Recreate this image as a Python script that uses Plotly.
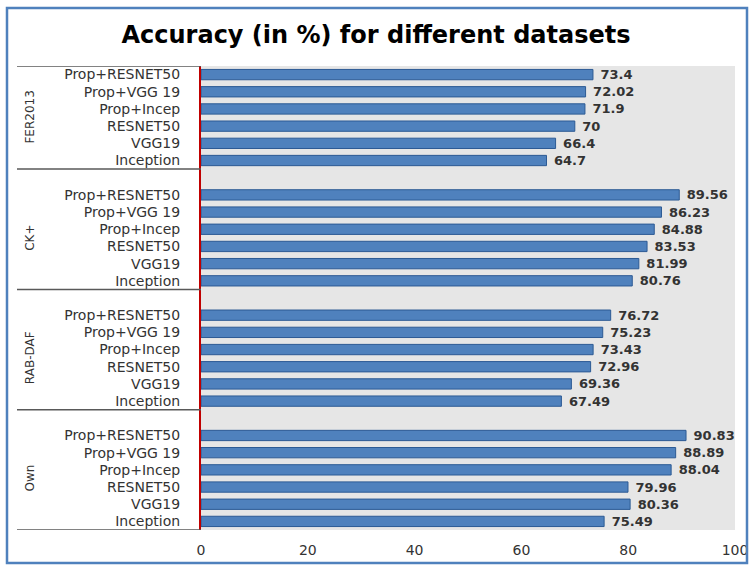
import plotly.graph_objects as go

title = "Accuracy (in %) for different datasets"
datasets = ["FER2013", "CK+", "RAB-DAF", "Own"]
models = ["Prop+RESNET50", "Prop+VGG19", "Prop+Incep", "RESNET50", "VGG19", "Inception"]
model_ticks = ["Prop+RESNET50", "Prop+VGG 19", "Prop+Incep", "RESNET50", "VGG19", "Inception"]
fer2013 = [73.4, 72.02, 71.9, 70, 66.4, 64.7]
ckplus = [89.56, 86.23, 84.88, 83.53, 81.99, 80.76]
rabdaf = [76.72, 75.23, 73.43, 72.96, 69.36, 67.49]
own = [90.83, 88.89, 88.04, 79.96, 80.36, 75.49]
x_ticks = [0, 20, 40, 60, 80, 100]

series = [fer2013, ckplus, rabdaf, own]
slots_per_group = len(models) + 1

ys, xs, tickvals, ticktext = [], [], [], []
for g, vals in enumerate(series):
    for m, v in enumerate(vals):
        s = g * slots_per_group + m
        ys.append(s)
        xs.append(v)
        tickvals.append(s)
        ticktext.append(model_ticks[m])

n_slots = len(series) * slots_per_group - 1
fig = go.Figure()
fig.add_trace(go.Bar(
    x=xs, y=ys, orientation="h", width=0.6,
    marker=dict(color="#4F81BD", line=dict(color="#2C5A94", width=1)),
    text=["\u00a0" + f"{v:g}" for v in xs], textposition="outside", cliponaxis=False,
    constraintext="none",
    textfont=dict(family="DejaVu Sans", size=13, color="#333333", weight="bold"),
))

L, R, T, B = 201, 17, 66, 35
W, H = 752, 565
fig.update_layout(
    width=W, height=H,
    margin=dict(l=L, r=R, t=T, b=B),
    paper_bgcolor="white", plot_bgcolor="#E6E6E6",
    showlegend=False,
    title=dict(text="<b>" + title + "</b>", x=0.5, xanchor="center", y=1 - 35 / H, yanchor="middle",
               font=dict(family="DejaVu Sans", size=24, color="black")),
    xaxis=dict(range=[0, 100], tickvals=x_ticks, showgrid=False, zeroline=False,
               ticks="", ticklabelstandoff=10,
               tickfont=dict(family="DejaVu Sans", size=14, color="#333333"),
               showline=False, automargin=False),
    yaxis=dict(range=[n_slots - 0.5, -0.5], tickvals=tickvals, ticktext=ticktext,
               showgrid=False, zeroline=False, ticks="", ticklabelstandoff=16,
               tickfont=dict(family="DejaVu Sans", size=14, color="#333333"),
               showline=True, linecolor="#C00000", linewidth=2, automargin=False),
)

# group dividers and labels
bounds = [-0.5] + [g * slots_per_group + len(models) - 0.5 for g in range(len(series))]
for b in bounds:
    fig.add_shape(type="line", xref="paper", yref="y",
                  x0=-(L - 17) / (W - L - R), x1=0, y0=b, y1=b,
                  line=dict(color="#595959", width=1.5))
for g, name in enumerate(datasets):
    mid = g * slots_per_group + (len(models) - 1) / 2
    fig.add_annotation(text=name, xref="paper", yref="y",
                       x=-(L - 30) / (W - L - R), y=mid, textangle=-90,
                       showarrow=False, xanchor="center", yanchor="middle",
                       font=dict(family="DejaVu Sans", size=12, color="#333333"))

# outer frame
fig.add_shape(type="rect", xref="paper", yref="paper",
              x0=-(L - 7) / (W - L - R), x1=1 + (R - 5) / (W - L - R),
              y0=-(B - 2) / (H - T - B), y1=1 + (T - 8) / (H - T - B),
              line=dict(color="#4F81BD", width=2.5))

fig.write_html("out.html", config={"displayModeBar": False},
               post_script="document.body.style.margin='0';document.body.style.overflow='hidden';")
